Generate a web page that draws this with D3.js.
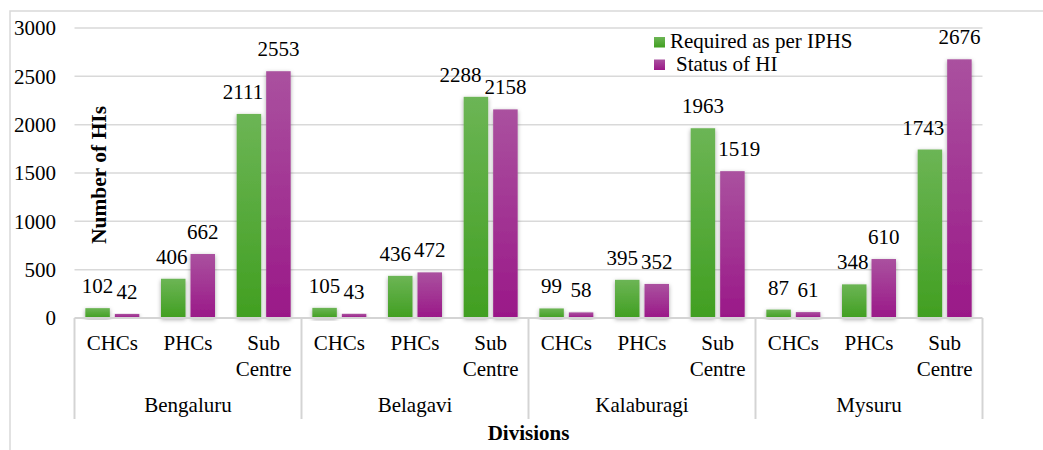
<!DOCTYPE html>
<html>
<head>
<meta charset="utf-8">
<script src="https://cdn.jsdelivr.net/npm/d3@7"></script>
<style>
  html, body { margin: 0; padding: 0; background: #fff; }
  svg text { font-family: "Liberation Serif", "Times New Roman", serif; fill: #000; }
</style>
</head>
<body>
<div id="chart"></div>
<script>
// Chart data
const divisions = ["Bengaluru", "Belagavi", "Kalaburagi", "Mysuru"];
const facilities = ["CHCs", "PHCs", "Sub Centre"];
const seriesNames = ["Required as per IPHS", "Status of HI"];
// one value per division x facility, in the order above
const requiredIPHS = [102, 406, 2111, 105, 436, 2288, 99, 395, 1963, 87, 348, 1743];
const statusHI = [42, 662, 2553, 43, 472, 2158, 58, 352, 1519, 61, 610, 2676];
const yTicks = [0, 500, 1000, 1500, 2000, 2500, 3000];

drawChart();

function drawChart() {
    const W = 1043, H = 450;
    const plot = { left: 74.5, right: 982.5, top: 28, bottom: 318 };
    const fontSize = 21;

    // Build rows: one per division/facility/series
    const rows = [];
    divisions.forEach(function(div, i) {
        facilities.forEach(function(fac, j) {
            const k = i * facilities.length + j;
            rows.push({ div: div, fac: fac, series: 0, value: requiredIPHS[k] });
            rows.push({ div: div, fac: fac, series: 1, value: statusHI[k] });
        });
    });

    const svg = d3.select("#chart")
        .append("svg")
        .attr("width", W)
        .attr("height", H);

    // Gradients and the soft shadow behind the bars
    const defs = svg.append("defs");
    const gradColors = [["#6cb555", "#419f21"], ["#aa519f", "#9a1888"]];
    gradColors.forEach(function(c, i) {
        const g = defs.append("linearGradient")
            .attr("id", "grad" + i)
            .attr("x1", 0).attr("y1", 0).attr("x2", 0).attr("y2", 1);
        g.append("stop").attr("offset", "0%").attr("stop-color", c[0]);
        g.append("stop").attr("offset", "100%").attr("stop-color", c[1]);
    });
    defs.append("filter")
        .attr("id", "shadow")
        .attr("x", "-50%").attr("y", "-20%").attr("width", "200%").attr("height", "140%")
        .append("feDropShadow")
        .attr("dx", 0).attr("dy", 1.5)
        .attr("stdDeviation", 2)
        .attr("flood-color", "#000")
        .attr("flood-opacity", 0.35);

    // Chart area border (top and left only show in the frame)
    svg.append("path")
        .attr("d", "M10,450V11H1043")
        .attr("fill", "none")
        .attr("stroke", "#d9d9d9")
        .attr("stroke-width", 1.5);

    // Scales
    const y = d3.scaleLinear()
        .domain([0, 3000])
        .range([plot.bottom, plot.top]);

    const xDiv = d3.scaleBand()
        .domain(divisions)
        .range([plot.left, plot.right]);

    const xFac = d3.scaleBand()
        .domain(facilities)
        .range([0, xDiv.bandwidth()]);

    const xSer = d3.scaleBand()
        .domain([0, 1])
        .range([-27, 27])
        .paddingInner(0.17);

    const barX = d => xDiv(d.div) + xFac(d.fac) + xFac.bandwidth() / 2 + xSer(d.series);

    // Gridlines
    svg.append("g")
        .selectAll("line")
        .data(yTicks.filter(t => t > 0))
        .enter()
        .append("line")
        .attr("x1", plot.left)
        .attr("x2", plot.right)
        .attr("y1", d => y(d))
        .attr("y2", d => y(d))
        .attr("stroke", "#d9d9d9")
        .attr("stroke-width", 1.5);

    // Y axis labels (no thousands separator)
    const yAxis = svg.append("g")
        .attr("transform", "translate(56,0)")
        .call(d3.axisLeft(y).tickValues(yTicks).tickFormat(d3.format("d")).tickSize(0).tickPadding(0));
    yAxis.select(".domain").remove();
    yAxis.selectAll("text")
        .style("font-family", "Liberation Serif")
        .style("font-size", fontSize + "px")
        .attr("fill", "#000");

    // Bars
    svg.append("g")
        .selectAll("rect")
        .data(rows)
        .enter()
        .append("rect")
        .attr("x", barX)
        .attr("y", d => y(d.value))
        .attr("width", xSer.bandwidth())
        .attr("height", d => y(0) - y(d.value))
        .attr("fill", d => "url(#grad" + d.series + ")")
        .attr("filter", "url(#shadow)");

    // Category axis: base line and division separators
    const axisG = svg.append("g")
        .attr("stroke", "#d4d4d4")
        .attr("stroke-width", 2);
    axisG.append("line")
        .attr("x1", plot.left).attr("x2", plot.right)
        .attr("y1", plot.bottom).attr("y2", plot.bottom);
    axisG.selectAll(".sep")
        .data(divisions.map(d => xDiv(d)).concat([plot.right]))
        .enter()
        .append("line")
        .attr("x1", d => d).attr("x2", d => d)
        .attr("y1", plot.bottom).attr("y2", 419);

    // Facility labels (wrap "Sub Centre" onto two lines)
    const facLabels = svg.append("g")
        .selectAll("text")
        .data(d3.cross(divisions, facilities))
        .enter()
        .append("text")
        .attr("text-anchor", "middle")
        .style("font-size", fontSize + "px");
    facLabels.each(function(d) {
        const cx = xDiv(d[0]) + xFac(d[1]) + xFac.bandwidth() / 2;
        d[1].split(" ").forEach(function(word, i) {
            d3.select(this).append("tspan")
                .attr("x", cx)
                .attr("y", 350 + i * 25.5)
                .text(word);
        }, this);
    });

    // Division labels
    svg.append("g")
        .selectAll("text")
        .data(divisions)
        .enter()
        .append("text")
        .attr("x", d => xDiv(d) + xDiv.bandwidth() / 2)
        .attr("y", 412)
        .attr("text-anchor", "middle")
        .style("font-size", fontSize + "px")
        .text(d => d);

    // Axis titles
    svg.append("text")
        .attr("x", (plot.left + plot.right) / 2)
        .attr("y", 440)
        .attr("text-anchor", "middle")
        .style("font-size", fontSize + "px")
        .style("font-weight", "bold")
        .text("Divisions");

    svg.append("text")
        .attr("transform", "translate(106," + ((plot.top + plot.bottom) / 2 + 2) + ") rotate(-90)")
        .attr("text-anchor", "middle")
        .style("font-size", "21.5px")
        .style("font-weight", "bold")
        .text("Number of HIs");

    // Data labels, nudged sideways when they would hit the neighbouring bar or label
    const labels = svg.append("g")
        .selectAll("text")
        .data(rows)
        .enter()
        .append("text")
        .attr("x", d => barX(d) + xSer.bandwidth() / 2)
        .attr("y", d => y(d.value) - 15)
        .attr("text-anchor", "middle")
        .style("font-size", fontSize + "px")
        .text(d => d.value);

    const capH = fontSize * 0.68;
    labels.each(function(d) {
        d.w = this.getComputedTextLength();
        d.cx = barX(d) + xSer.bandwidth() / 2;
        d.base = y(d.value) - 15;
    });
    const gap = 3;
    for (let i = 0; i < rows.length; i += 2) {
        const g = rows[i], p = rows[i + 1];
        [g, p].forEach(function(d, s) {
            const other = s === 0 ? p : g;
            // neighbouring bar
            const bx0 = barX(other), bx1 = bx0 + xSer.bandwidth(), by = y(other.value);
            let l = d.cx - d.w / 2, r = d.cx + d.w / 2;
            if (d.base > by && r > bx0 - gap && l < bx1 + gap) {
                d.cx += s === 0 ? (bx0 - gap - r) : (bx1 + gap - l);
            }
        });
        // green label against purple label
        const gl = g.cx + g.w / 2, pl = p.cx - p.w / 2;
        const vOverlap = Math.abs(g.base - p.base) < capH;
        if (vOverlap && gl > pl - gap) {
            g.cx -= gl - (pl - gap);
        }
    }
    labels.attr("x", d => d.cx);

    // Legend
    const legend = svg.append("g")
        .selectAll("g")
        .data(seriesNames)
        .enter()
        .append("g")
        .attr("transform", (d, i) => "translate(654," + (37 + i * 22.5) + ")");
    legend.append("rect")
        .attr("width", 11)
        .attr("height", 10.5)
        .attr("fill", (d, i) => "url(#grad" + i + ")");
    legend.append("text")
        .attr("x", (d, i) => i === 0 ? 16 : 22)
        .attr("y", 11)
        .style("font-size", fontSize + "px")
        .text(d => d);
}
</script>
</body>
</html>
